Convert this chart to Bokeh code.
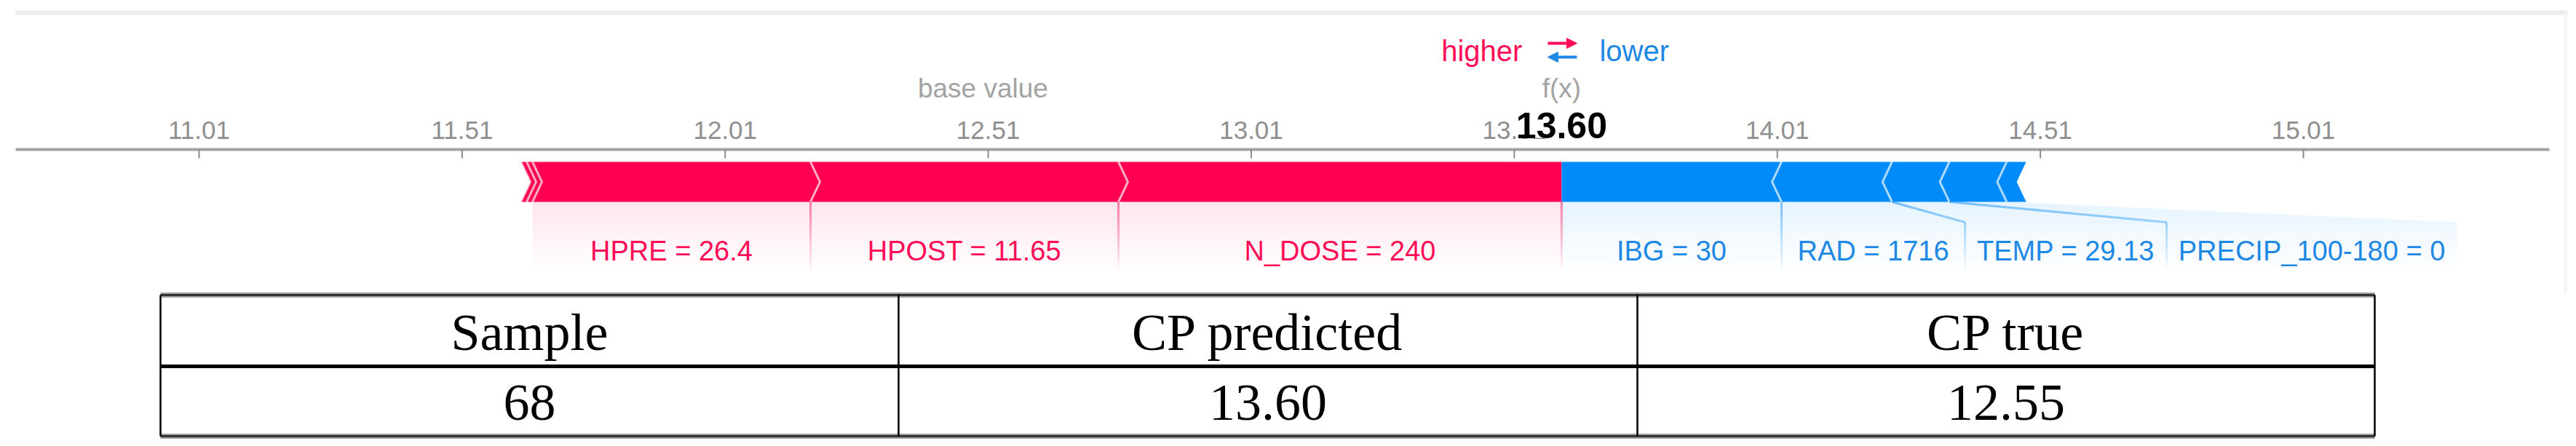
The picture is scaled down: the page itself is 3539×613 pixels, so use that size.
import numpy as np
from bokeh.plotting import figure
from bokeh.models import Range1d, Arrow, NormalHead
from bokeh.core.properties import value
from bokeh.embed import file_html
from bokeh.resources import INLINE

# ---------------- data ----------------
base_value = 12.50
fx_value = 13.60
fx_label = "13.60"
pos_features = ["HPRE", "HPOST", "N_DOSE"]
pos_feature_values = ["26.4", "11.65", "240"]
pos_shap = [0.5285, 0.5853, 0.8425]
pos_other_shap = [0.011, 0.011]
neg_features = ["IBG", "RAD", "TEMP", "PRECIP_100-180"]
neg_feature_values = ["30", "1716", "29.13", "0"]
neg_shap = [0.418, 0.210, 0.109, 0.109]
neg_other_shap = [0.037]
tick_values = [11.01, 11.51, 12.01, 12.51, 13.01, 13.51, 14.01, 14.51, 15.01]
tick_labels = ["11.01", "11.51", "12.01", "12.51", "13.01", "13.51", "14.01", "14.51", "15.01"]
table_header = ["Sample", "CP predicted", "CP true"]
table_row = ["68", "13.60", "12.55"]

# ---------------- style / layout ----------------
PINK = "#ff0051"
PINK_TXT = "#ff0d57"
BLUE = "#008bfb"
BLUE_TXT = "#1e88e5"
SANS = value("Liberation Sans")
SERIF = value("Liberation Serif")
BASE_SHIFT = 0.33   # em correction so that given y is the visual baseline

W, H = 3539, 613
PXU = 722.75            # pixels per value unit
U = 1.0 / PXU
X0 = tick_values[0] - 273 * U

p = figure(width=W, height=H, x_range=Range1d(X0, X0 + W * U), y_range=Range1d(H, 0),
           x_axis_type=None, y_axis_type=None, output_backend="svg",
           toolbar_location=None, min_border=0)
p.extra_x_ranges = {"px": Range1d(0, W)}
p.grid.visible = False
p.outline_line_color = None
p.background_fill_color = "white"
p.border_fill_color = "white"


def txt(x, baseline, text, size, color, align="center", font=SANS, style="normal", **kw):
    p.text(x=x, y=[baseline - BASE_SHIFT * size] * len(x), text=text, text_font=font,
           text_font_size=value(f"{size}px"), text_font_style=style, text_color=color,
           text_align=align, text_baseline="alphabetic", **kw)


BAR_T, BAR_B = 222, 277
BAR_M = (BAR_T + BAR_B) / 2
D = 13 * U
Y_KNEE, Y_END = 305, 374

# decorative frame lines of the original screenshot
p.segment(x0=[21], x1=[3527], y0=[17], y1=[17], x_range_name="px", line_color="#ececec", line_width=6)
p.segment(x0=[3524], x1=[3524], y0=[17], y1=[403], x_range_name="px", line_color="#f3f3f3", line_width=3)

# ---------------- axis ----------------
p.segment(x0=[21], x1=[3502], y0=[205], y1=[205], x_range_name="px", line_color="#a3a3a3", line_width=4)
p.segment(x0=tick_values, x1=tick_values, y0=[205] * len(tick_values), y1=[217] * len(tick_values),
          line_color="#8a8a8a", line_width=2)
txt(tick_values, 190, tick_labels, 35, "#8f8f8f")

# ---------------- bars ----------------
pink_vals = list(pos_other_shap) + list(pos_shap)
pink_text = [None] * len(pos_other_shap) + [f"{n} = {v}" for n, v in zip(pos_features, pos_feature_values)]
pe = fx_value - sum(pink_vals) + np.concatenate([[0.0], np.cumsum(pink_vals)])
n_p = len(pink_vals)
pxs, pys = [], []
for i in range(n_p):
    a, b = pe[i], pe[i + 1]
    if i == n_p - 1:
        pxs.append([a, b, b, a, a + D]); pys.append([BAR_T, BAR_T, BAR_B, BAR_B, BAR_M])
    else:
        pxs.append([a, b, b + D, b, a, a + D]); pys.append([BAR_T, BAR_T, BAR_M, BAR_B, BAR_B, BAR_M])
p.patches(pxs, pys, fill_color=PINK, line_color=None)

blue_vals = list(neg_shap) + list(neg_other_shap)
blue_text = [f"{n} = {v}" for n, v in zip(neg_features, neg_feature_values)] + [None] * len(neg_other_shap)
be = fx_value + np.concatenate([[0.0], np.cumsum(blue_vals)])
n_b = len(blue_vals)
bxs, bys = [], []
for i in range(n_b):
    a, b = be[i], be[i + 1]
    if i == 0:
        bxs.append([a, b, b - D, b, a]); bys.append([BAR_T, BAR_T, BAR_M, BAR_B, BAR_B])
    else:
        bxs.append([a, b, b - D, b, a, a - D]); bys.append([BAR_T, BAR_T, BAR_M, BAR_B, BAR_B, BAR_M])
p.patches(bxs, bys, fill_color=BLUE, line_color=None)

# chevron separators
sx, sy = [], []
for e in pe[:-1]:
    sx.append([e, e + D, e]); sy.append([BAR_T, BAR_M, BAR_B])
p.multi_line(sx, sy, line_color="white", line_alpha=0.65, line_width=3)
sx, sy = [], []
for e in be[1:-1]:
    sx.append([e, e - D, e]); sy.append([BAR_T, BAR_M, BAR_B])
p.multi_line(sx, sy, line_color="white", line_alpha=0.65, line_width=3)

# ---------------- label regions ----------------
neg_label_min_px = [0, 252, 277, 399]

regions = []  # (seg_a, seg_b, reg_a, reg_b, color, textcolor, text, stroke_right)
prev = fx_value
for i in reversed(range(n_p)):
    if pink_text[i] is None:
        continue
    sa, sb = pe[i], pe[i + 1]
    rb = min(sb, prev)
    ra = min(sa, rb)
    prev = ra
    regions.append((sa, sb, ra, rb, PINK, PINK_TXT, pink_text[i], True))
prev = fx_value
for i in range(len(neg_features)):
    sa, sb = be[i], be[i + 1]
    ra = max(sa, prev)
    rb = max(sb, ra + neg_label_min_px[i] * U)
    prev = rb
    regions.append((sa, sb, ra, rb, BLUE, BLUE_TXT, blue_text[i], i < len(neg_features) - 1))

band_y = np.concatenate([np.linspace(BAR_B, Y_KNEE, 8), np.linspace(Y_KNEE, Y_END, 24)[1:]])


def edge_x(s, r, y):
    t = min(1.0, (y - BAR_B) / (Y_KNEE - BAR_B))
    return s + (r - s) * t


def fade(y, a0):
    return a0 * max(0.0, 1 - (y - BAR_B) / (Y_END - BAR_B))


for (sa, sb, ra, rb, col, tcol, text, stroke) in regions:
    fx_, fy_, fa_ = [], [], []
    for y0, y1 in zip(band_y[:-1], band_y[1:]):
        fx_.append([edge_x(sa, ra, y0), edge_x(sb, rb, y0), edge_x(sb, rb, y1), edge_x(sa, ra, y1)])
        fy_.append([y0, y0, y1, y1])
        fa_.append(fade((y0 + y1) / 2, 0.10))
    p.patches(fx_, fy_, fill_color=col, fill_alpha=fa_, line_color=None)

# divider strokes (fading)
for (sa, sb, ra, rb, col, tcol, text, stroke) in regions:
    if not stroke:
        continue
    x0s, x1s, y0s, y1s, al = [], [], [], [], []
    for y0, y1 in zip(band_y[:-1], band_y[1:]):
        x0s.append(edge_x(sb, rb, y0)); x1s.append(edge_x(sb, rb, y1))
        y0s.append(y0); y1s.append(y1)
        al.append(fade((y0 + y1) / 2, 0.5))
    p.segment(x0=x0s, x1=x1s, y0=y0s, y1=y1s, line_color=col, line_alpha=al, line_width=3)

for (sa, sb, ra, rb, col, tcol, text, stroke) in regions:
    txt([(ra + rb) / 2], 357, [text], 38, tcol)

# ---------------- header texts ----------------
txt([base_value], 133, ["base value"], 37, "#a3a3a3")
txt([fx_value], 133, ["f(x)"], 37, "#a3a3a3")
txt([fx_value], 188, [fx_label], 50, "black", style="bold", background_fill_color="white")
txt([fx_value - 54 * U], 83, ["higher"], 40, PINK_TXT, align="right")
txt([fx_value + 52 * U], 83, ["lower"], 40, BLUE_TXT, align="left")
p.add_layout(Arrow(end=NormalHead(size=14, fill_color=PINK_TXT, line_color=PINK_TXT),
                   x_start=fx_value - 19 * U, y_start=59, x_end=fx_value + 21 * U, y_end=59,
                   line_color=PINK_TXT, line_width=4))
p.add_layout(Arrow(end=NormalHead(size=14, fill_color=BLUE_TXT, line_color=BLUE_TXT),
                   x_start=fx_value + 21 * U, y_start=78, x_end=fx_value - 19 * U, y_end=78,
                   line_color=BLUE_TXT, line_width=4))

# ---------------- table ----------------
col_edges = [220, 1234, 2249, 3262]
T_TOP, T_MID, T_BOT = 405, 503, 599
for yy in (T_TOP, T_BOT):
    p.segment(x0=[col_edges[0]], x1=[col_edges[-1]], y0=[yy], y1=[yy], x_range_name="px",
              line_color="#a0a0a0", line_width=7)
    p.segment(x0=[col_edges[0]], x1=[col_edges[-1]], y0=[yy], y1=[yy], x_range_name="px",
              line_color="#333333", line_width=3)
p.segment(x0=[col_edges[0]], x1=[col_edges[-1]], y0=[T_MID], y1=[T_MID], x_range_name="px",
          line_color="black", line_width=5)
p.segment(x0=col_edges, x1=col_edges, y0=[T_TOP] * 4, y1=[T_BOT] * 4, x_range_name="px",
          line_color="black", line_width=2.5)
centers = [(col_edges[i] + col_edges[i + 1]) / 2 for i in range(3)]
txt(centers, 480, table_header, 72, "black", font=SERIF, x_range_name="px")
txt(centers, 577, table_row, 72, "black", font=SERIF, x_range_name="px")

open("out.html", "w").write(file_html(p, INLINE))
